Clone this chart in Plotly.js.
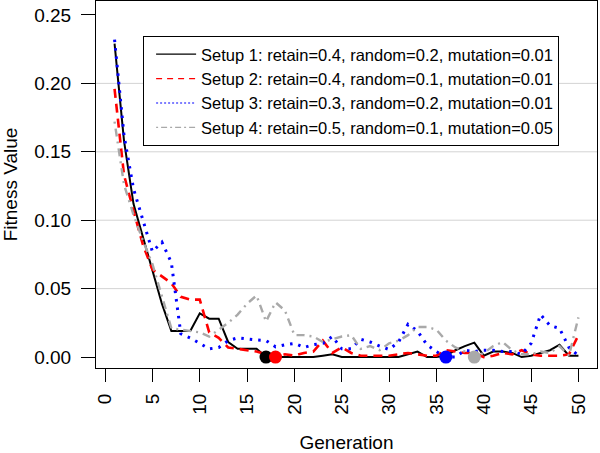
<!DOCTYPE html>
<html>
<head>
<meta charset="utf-8">
<script src="https://cdn.plot.ly/plotly-3.0.1.min.js"></script>
<style>
html,body{margin:0;padding:0;background:#fff;}
#chart{width:600px;height:453px;}
</style>
</head>
<body>
<div id="chart"></div>
<script>
// ---- data ----
var generations = [1,2,3,4,5,6,7,8,9,10,11,12,13,14,15,16,17,18,19,20,21,22,23,24,25,26,27,28,29,30,31,32,33,34,35,36,37,38,39,40,41,42,43,44,45,46,47,48,49,50];

var setup1 = [0.229,0.158,0.112,0.087,0.062,0.039,0.019,0.019,0.019,0.032,
              0.028,0.028,0.011,0.006,0.006,0.006,0.000,0.000,0.000,0.000,
              0.000,0.000,0.001,0.002,0.000,0.000,0.000,0.000,0.000,0.000,
              0.000,0.002,0.004,0.000,0.000,0.001,0.005,0.008,0.0105,0.001,
              0.004,0.004,0.003,0.000,0.001,0.003,0.005,0.009,0.001,0.001];

var setup2 = [0.196,0.133,0.107,0.082,0.064,0.059,0.054,0.044,0.042,0.042,
              0.018,0.014,0.007,0.006,0.005,0.004,0.002,0.000,0.002,0.001,
              0.003,0.004,0.012,0.003,0.007,0.003,0.001,0.001,0.001,0.001,
              0.002,0.003,0.002,0.001,0.001,0.005,0.004,0.003,0.003,0.000,
              0.001,0.003,0.002,0.005,0.002,0.001,0.001,0.001,0.002,0.016];

var setup3 = [0.232,0.162,0.123,0.100,0.077,0.084,0.069,0.017,0.014,0.010,
              0.006,0.007,0.012,0.014,0.013,0.0125,0.012,0.0075,0.009,0.010,
              0.007,0.009,0.010,0.015,0.006,0.006,0.013,0.011,0.008,0.0055,
              0.011,0.024,0.019,0.009,0.004,0.000,0.000,0.005,0.004,0.005,
              0.005,0.004,0.004,0.002,0.010,0.031,0.023,0.021,0.007,0.001];

var setup4 = [0.172,0.126,0.104,0.085,0.068,0.045,0.021,0.020,0.019,0.018,
              0.015,0.020,0.025,0.031,0.039,0.045,0.026,0.040,0.034,0.016,
              0.016,0.015,0.011,0.013,0.015,0.016,0.006,0.008,0.005,0.010,
              0.012,0.016,0.022,0.022,0.020,0.012,0.007,0.004,0.000,0.003,
              0.008,0.011,0.005,0.002,0.002,0.004,0.003,0.008,0.001,0.029];

var seriesNames = [
  "Setup 1: retain=0.4, random=0.2, mutation=0.01",
  "Setup 2: retain=0.4, random=0.1, mutation=0.01",
  "Setup 3: retain=0.3, random=0.2, mutation=0.01",
  "Setup 4: retain=0.5, random=0.1, mutation=0.05"
];

// generation at which each setup first reaches its minimum, and that value
var bestGen = [17, 18, 36, 39];
var bestVal = [0.000, 0.000, 0.000, 0.000];

var xTickVals = [0,5,10,15,20,25,30,35,40,45,50];
var xTickText = ["0","5","10","15","20","25","30","35","40","45","50"];
var yTickVals = [0,0.05,0.10,0.15,0.20,0.25];
var yTickText = ["0.00","0.05","0.10","0.15","0.20","0.25"];
var gridVals = [0.05,0.10,0.15,0.20];

// ---- styles ----
var colors = ["#000000","#FF0000","#0000FF","#A9A9A9"];
var dashes = ["solid","9px,6px","2.5px,6px","2px,5px,8px,5px"];
var widths = [2,2.6,3,2.4];
var legendDashes = ["solid","6px,5px","2px,2px","2px,3px,6px,3px"];
var allSeries = [setup1, setup2, setup3, setup4];

var traces = [];
for (var i = 0; i < allSeries.length; i++) {
  traces.push({
    x: generations, y: allSeries[i], type: "scatter", mode: "lines",
    name: seriesNames[i], showlegend: false, legendgroup: "s" + i,
    line: {color: colors[i], width: widths[i], dash: dashes[i]}
  });
}
for (var j = 0; j < bestGen.length; j++) {
  traces.push({
    x: [bestGen[j]], y: [bestVal[j]], type: "scatter", mode: "markers",
    showlegend: false, hoverinfo: "skip",
    marker: {color: colors[j], size: 13, line: {width: 0}}
  });
}
// legend keys (thin lines, as in the reference legend)
for (var k = 0; k < seriesNames.length; k++) {
  traces.push({
    x: [null], y: [null], type: "scatter", mode: "lines",
    name: seriesNames[k], legendgroup: "s" + k, showlegend: true,
    line: {color: colors[k], width: 1.2, dash: legendDashes[k]}
  });
}

var shapes = gridVals.map(function (v) {
  return {type: "line", xref: "paper", yref: "y", x0: 0, x1: 1, y0: v, y1: v,
          layer: "below", line: {color: "#D3D3D3", width: 1}};
});

var fontFam = "Liberation Sans, Arial, Helvetica, sans-serif";

var layout = {
  width: 600, height: 453,
  margin: {l: 96, r: 3, t: 1, b: 85, pad: 0},
  paper_bgcolor: "#ffffff", plot_bgcolor: "#ffffff",
  font: {family: fontFam, color: "#000000", size: 18},
  showlegend: true,
  legend: {
    x: 0.094, y: 0.905, xanchor: "left", yanchor: "top",
    bgcolor: "#ffffff", bordercolor: "#000000", borderwidth: 1,
    font: {family: fontFam, size: 16.5, color: "#000000"},
    itemwidth: 40, indentation: 7, tracegroupgap: 0
  },
  xaxis: {
    range: [-0.96, 51.96], tickmode: "array", tickvals: xTickVals, ticktext: xTickText,
    tickangle: -90, ticks: "outside", ticklen: 13, tickwidth: 1, tickcolor: "#000",
    showline: true, mirror: true, linecolor: "#000", linewidth: 1,
    showgrid: false, zeroline: false, automargin: false,
    ticklabelstandoff: 4,
    tickfont: {size: 19, family: fontFam},
    title: {text: "Generation", font: {size: 19, family: fontFam}, standoff: 26}
  },
  yaxis: {
    range: [-0.008, 0.2602], tickmode: "array", tickvals: yTickVals, ticktext: yTickText,
    ticks: "outside", ticklen: 14, tickwidth: 1, tickcolor: "#000",
    showline: true, mirror: true, linecolor: "#000", linewidth: 1,
    showgrid: false, zeroline: false, automargin: false,
    ticklabelstandoff: 6,
    tickfont: {size: 19, family: fontFam},
    title: {text: "Fitness Value", font: {size: 19, family: fontFam}, standoff: 14}
  },
  shapes: shapes
};

Plotly.newPlot("chart", traces, layout, {staticPlot: true, displayModeBar: false});
</script>
</body>
</html>
